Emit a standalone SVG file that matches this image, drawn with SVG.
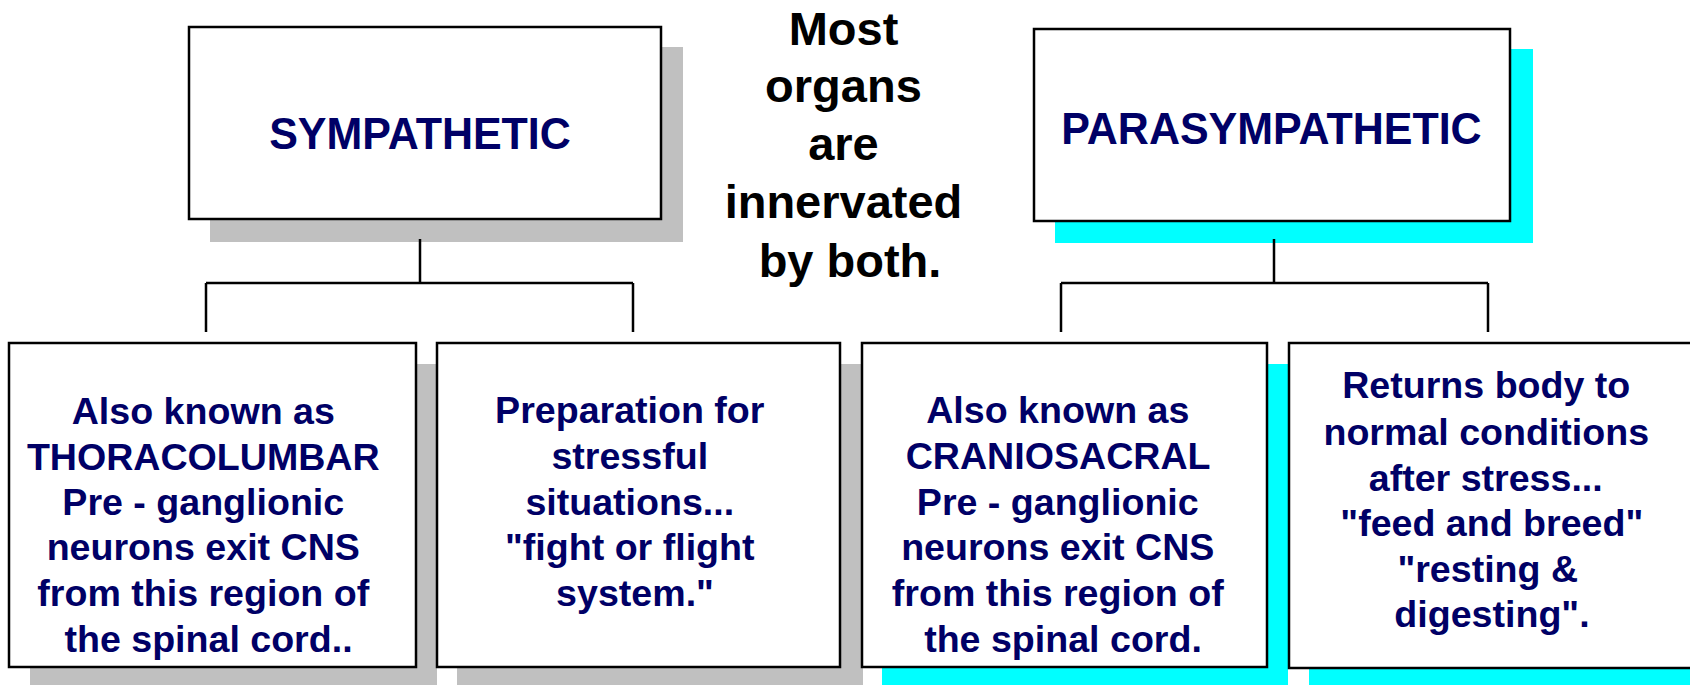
<svg xmlns="http://www.w3.org/2000/svg" width="1690" height="685" viewBox="0 0 1690 685">
<style>
.box{fill:#ffffff;stroke:#000000;stroke-width:2.5}
.sg{fill:#c0c0c0}
.sc{fill:#00ffff}
.ln{fill:none;stroke:#000000;stroke-width:2.5}
.t{font-family:"Liberation Sans",Arial,sans-serif;font-weight:bold;fill:#000066;text-anchor:middle}
.b{font-size:37.6px}
.h{font-size:43px}
.m{font-family:"Liberation Sans",Arial,sans-serif;font-weight:bold;fill:#000000;text-anchor:middle;font-size:47px}
</style>
<rect width="1690" height="685" fill="#ffffff"/>
<g id="shadows">
<rect class="sg" x="210" y="47" width="473" height="195"/>
<rect class="sc" x="1055" y="49" width="478" height="194"/>
<rect class="sg" x="30" y="364" width="407" height="330"/>
<rect class="sg" x="457" y="364" width="406" height="330"/>
<rect class="sc" x="882" y="364" width="406" height="330"/>
<rect class="sc" x="1309" y="364" width="410" height="330"/>
</g>
<g id="connectors">
<path class="ln" d="M420,239 V283 M206,283 H633 M206,283 V332 M633,283 V332"/>
<path class="ln" d="M1274,239 V283 M1061,283 H1488 M1061,283 V332 M1488,283 V332"/>
</g>
<g id="sympathetic">
<rect class="box" x="189" y="27" width="472" height="192"/>
<text class="t h" transform="translate(420,149) scale(1,1.05)" x="0" y="0">SYMPATHETIC</text>
</g>
<g id="parasympathetic">
<rect class="box" x="1034" y="29" width="476" height="192"/>
<text class="t h" transform="translate(1271.5,144) scale(1,1.05)" x="0" y="0">PARASYMPATHETIC</text>
</g>
<g id="middle-note">
<text class="m" x="850">
<tspan x="850" y="45">Most</tspan>
<tspan x="850" y="102">organs</tspan>
<tspan x="850" y="160">are</tspan>
<tspan x="850" y="218">innervated</tspan>
<tspan x="850" y="277">by both.</tspan>
</text>
</g>
<g id="thoracolumbar">
<rect class="box" x="9" y="343" width="407" height="324"/>
<text class="t b">
<tspan x="208.5" y="424">Also known as</tspan>
<tspan x="208.5" y="470">THORACOLUMBAR</tspan>
<tspan x="208.5" y="515">Pre - ganglionic</tspan>
<tspan x="208.5" y="560">neurons exit CNS</tspan>
<tspan x="208.5" y="606">from this region of</tspan>
<tspan x="208.5" y="652">the spinal cord..</tspan>
</text>
</g>
<g id="fight-or-flight">
<rect class="box" x="437" y="343" width="403" height="324"/>
<text class="t b">
<tspan x="635" y="423">Preparation for</tspan>
<tspan x="635" y="469">stressful</tspan>
<tspan x="635" y="515">situations...</tspan>
<tspan x="635" y="560">"fight or flight</tspan>
<tspan x="635" y="606">system."</tspan>
</text>
</g>
<g id="craniosacral">
<rect class="box" x="862" y="343" width="405" height="324"/>
<text class="t b">
<tspan x="1063" y="423">Also known as</tspan>
<tspan x="1063" y="469">CRANIOSACRAL</tspan>
<tspan x="1063" y="515">Pre - ganglionic</tspan>
<tspan x="1063" y="560">neurons exit CNS</tspan>
<tspan x="1063" y="606">from this region of</tspan>
<tspan x="1063" y="652">the spinal cord.</tspan>
</text>
</g>
<g id="feed-and-breed">
<rect class="box" x="1289" y="343" width="410" height="325"/>
<text class="t b">
<tspan x="1491.5" y="398">Returns body to</tspan>
<tspan x="1491.5" y="445">normal conditions</tspan>
<tspan x="1491" y="491">after stress...</tspan>
<tspan x="1497" y="536">"feed and breed"</tspan>
<tspan x="1493" y="582">"resting &amp;</tspan>
<tspan x="1492" y="627">digesting".</tspan>
</text>
</g>
</svg>
